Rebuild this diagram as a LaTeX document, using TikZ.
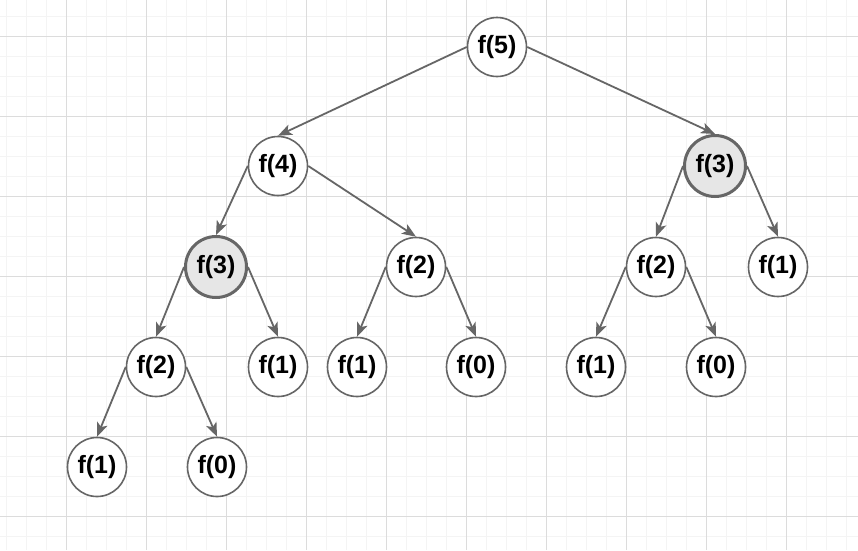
\documentclass[tikz,border=0pt]{standalone}
\usepackage{fontspec}
\setmainfont{Liberation Sans}
\usetikzlibrary{positioning, arrows.meta}
\definecolor{edgegray}{HTML}{666666}
\definecolor{hlgray}{HTML}{E6E6E6}
\definecolor{gridminor}{HTML}{F4F4F4}
\definecolor{gridmajor}{HTML}{DCDCDC}
\tikzstyle{call} = [
  circle, minimum size=59pt, inner sep=0pt,
  text centered, align=center,
  draw=edgegray, line width=1.6pt, fill=white
]
\tikzstyle{repeated} = [
  circle, minimum size=61pt, inner sep=0pt,
  text centered, align=center,
  draw=edgegray, line width=3pt, fill=hlgray
]
\tikzset{
  arrow/.style={
    draw=edgegray, line width=1.8pt,
    -{Stealth[length=14pt,width=11pt,inset=3.5pt]}
  }
}

\begin{document}
\begin{tikzpicture}[
  x=1pt, y=1pt,
  font=\fontsize{25}{29}\selectfont\bfseries,
  on grid
]

% ------------------------------------------------
% FONDO: cuadricula
% ------------------------------------------------
\useasboundingbox (0,0) rectangle (858,-550);
\fill[white] (0,0) rectangle (858,-550);
\foreach \i in {0,...,42}
  \draw[gridminor, line width=1pt] ({6.67+20*\i},0) -- ({6.67+20*\i},-550);
\foreach \j in {0,...,26}
  \draw[gridminor, line width=1pt] (0,{-16-20*\j}) -- (858,{-16-20*\j});
\foreach \i in {0,...,9}
  \draw[gridmajor, line width=1pt] ({66.67+80*\i},0) -- ({66.67+80*\i},-550);
\foreach \j in {0,...,6}
  \draw[gridmajor, line width=1pt] (0,{-36-80*\j}) -- (858,{-36-80*\j});

% ------------------------------------------------
% NIVEL 0 y 1
% ------------------------------------------------

% f5: raiz
\node[call] (f5) at (497,-47) {f(5)};

% f4: rama izquierda
\node[call, below left=119pt and 219pt of f5] (f4) {f(4)};

% f3b: rama derecha (repetida)
\node[repeated, below right=119pt and 218pt of f5] (f3b) {f(3)};

% ------------------------------------------------
% NIVEL 2
% ------------------------------------------------
\node[repeated, below left=101pt and 62pt of f4] (f3a) {f(3)};
\node[call, below right=101pt and 138pt of f4] (f2b) {f(2)};
\node[call, below left=101pt and 59pt of f3b] (f2c) {f(2)};
\node[call, below right=101pt and 63pt of f3b] (f1e) {f(1)};

% ------------------------------------------------
% NIVEL 3
% ------------------------------------------------
\node[call, below left=100pt and 60pt of f3a] (f2a) {f(2)};
\node[call, below right=100pt and 62pt of f3a] (f1b) {f(1)};
\node[call, below left=100pt and 59pt of f2b] (f1c) {f(1)};
\node[call, below right=100pt and 60pt of f2b] (f0b) {f(0)};
\node[call, below left=100pt and 60pt of f2c] (f1d) {f(1)};
\node[call, below right=100pt and 60pt of f2c] (f0c) {f(0)};

% ------------------------------------------------
% NIVEL 4
% ------------------------------------------------
\node[call, below left=100pt and 59pt of f2a] (f1a) {f(1)};
\node[call, below right=100pt and 61pt of f2a] (f0a) {f(0)};

% ------------------------------------------------
% FLECHAS (oeste -> hijo izq., este -> hijo der.)
% ------------------------------------------------
\draw[arrow] (f5.west) -- (f4.north);
\draw[arrow] (f5.east) -- (f3b.north);

\draw[arrow] (f4.west) -- (f3a.north);
\draw[arrow] (f4.east) -- (f2b.north);

\draw[arrow] (f3b.west) -- (f2c.north);
\draw[arrow] (f3b.east) -- (f1e.north);

\draw[arrow] (f3a.west) -- (f2a.north);
\draw[arrow] (f3a.east) -- (f1b.north);

\draw[arrow] (f2b.west) -- (f1c.north);
\draw[arrow] (f2b.east) -- (f0b.north);

\draw[arrow] (f2c.west) -- (f1d.north);
\draw[arrow] (f2c.east) -- (f0c.north);

\draw[arrow] (f2a.west) -- (f1a.north);
\draw[arrow] (f2a.east) -- (f0a.north);

\end{tikzpicture}
\end{document}
